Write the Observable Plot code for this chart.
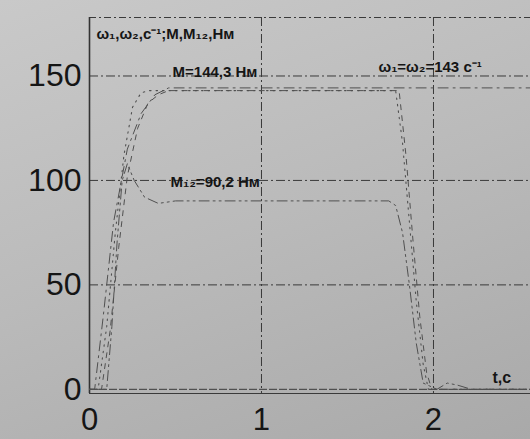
<!DOCTYPE html>
<html>
<head>
<meta charset="utf-8">
<script src="https://cdn.jsdelivr.net/npm/d3@7"></script>
<script src="https://cdn.jsdelivr.net/npm/@observablehq/plot@0.6"></script>
<style>
  html, body { margin: 0; padding: 0; }
  body { width: 530px; height: 439px; overflow: hidden;
         background: linear-gradient(160deg, #c9c9c9 0%, #bababa 50%, #a9a9a9 100%); }
  #chart svg { display: block; }
</style>
</head>
<body>
<div id="chart"></div>
<script>
// ---- data ----
const xTicks = [0, 1, 2];
const yTicks = [0, 50, 100, 150];
const gridX = [1, 2];
const gridY = [50, 100, 150];

// angular speed ω1 (dotted)
const omega1T = [0, 0.05, 0.10, 0.15, 0.20, 0.25, 0.30, 0.35, 1.78, 1.82, 1.86, 1.90, 1.94, 1.97, 2.56];
const omega1  = [0, 0, 30, 75, 112, 135, 142, 143, 143, 118, 80, 42, 12, 0, 0];
// angular speed ω2 (dashed)
const omega2T = [0, 0.07, 0.12, 0.17, 0.22, 0.28, 0.34, 0.40, 0.46, 1.80, 1.84, 1.88, 1.92, 1.96, 1.99, 2.56];
const omega2  = [0, 0, 28, 68, 102, 125, 137, 141, 143, 143, 112, 72, 35, 8, 0, 0];
// motor torque M (dash-dot)
const mT = [0, 0.03, 0.08, 0.14, 0.22, 0.30, 0.38, 0.46, 2.56];
const mV = [0, 0, 35, 80, 115, 132, 141, 144.3, 144.3];
// shaft torque M12 (dash-dot-dot)
const m12T = [0, 0.10, 0.13, 0.16, 0.19, 0.22, 0.26, 0.32, 0.40, 0.50, 1.74, 1.78, 1.82, 1.86, 1.90, 1.94, 2.02, 2.08, 2.14, 2.22, 2.30, 2.56];
const m12V = [0, 0, 30, 70, 100, 108, 100, 92, 89, 90.2, 90.2, 88, 75, 50, 22, 3, 0, 3, 2, 0, 0, 0];

// annotations
const labelTexts = ["ω₁,ω₂,c⁻¹;M,M₁₂,Нм", "M=144,3 Нм", "ω₁=ω₂=143 c⁻¹", "M₁₂=90,2 Нм", "t,c"];
const labelT = [0.04, 0.483, 1.68, 0.471, 2.343];
const labelV = [170, 152, 154, 99, 5.6];
const labelSize = [15, 15, 15, 15, 16];

// ---- build tables ----
const toRows = (ts, vs) => ts.map((t, i) => ({t, v: vs[i]}));
const omega1Rows = toRows(omega1T, omega1);
const omega2Rows = toRows(omega2T, omega2);
const mRows = toRows(mT, mV);
const m12Rows = toRows(m12T, m12V);
const labels = labelTexts.map((s, i) => ({s, t: labelT[i], v: labelV[i], size: labelSize[i]}));

const ink = "#505050";
const chart = Plot.plot({
  width: 530,
  height: 439,
  marginLeft: 89,
  marginRight: 0,
  marginTop: 17,
  marginBottom: 46,
  style: {background: "transparent", fontFamily: "Liberation Sans, Arial, sans-serif", color: "#151515"},
  x: {domain: [0, 2.564]},
  y: {domain: [-2, 178]},
  marks: [
    // grid lines
    Plot.ruleY(gridY, {stroke: "#3a3a3a", strokeWidth: 1, strokeDasharray: "9,3,2,3"}),
    Plot.ruleX(gridX, {stroke: "#3a3a3a", strokeWidth: 1, strokeDasharray: "9,3,2,3"}),
    // frame
    Plot.ruleY([178], {stroke: "#3a3a3a", strokeWidth: 1, strokeDasharray: "7,3,2,3"}),
    Plot.ruleY([0], {stroke: "#3a3a3a", strokeWidth: 1, strokeDasharray: "8,2"}),
    Plot.ruleY([-2], {stroke: "#3a3a3a", strokeWidth: 1.2}),
    Plot.ruleX([0], {stroke: "#333", strokeWidth: 1.6}),
    // curves
    Plot.line(omega1Rows, {x: "t", y: "v", stroke: ink, strokeWidth: 1.1, strokeDasharray: "1.5,5"}),
    Plot.line(omega2Rows, {x: "t", y: "v", stroke: ink, strokeWidth: 1, strokeDasharray: "5,6"}),
    Plot.line(mRows, {x: "t", y: "v", stroke: ink, strokeWidth: 1, strokeDasharray: "10,5,2,5"}),
    Plot.line(m12Rows, {x: "t", y: "v", stroke: ink, strokeWidth: 1, strokeDasharray: "10,4,2,4,2,4"}),
    // axes
    Plot.axisY(yTicks, {tickSize: 0, tickPadding: 8, fontSize: 32, label: null}),
    Plot.axisX(xTicks, {tickSize: 0, tickPadding: 14, fontSize: 31, label: null, tickFormat: "d"}),
    // annotations
    Plot.text(labels, {x: "t", y: "v", text: "s", textAnchor: "start", fontSize: (d) => d.size, fill: "#151515", fontWeight: 600})
  ]
});
document.getElementById("chart").appendChild(chart);
</script>
</body>
</html>
